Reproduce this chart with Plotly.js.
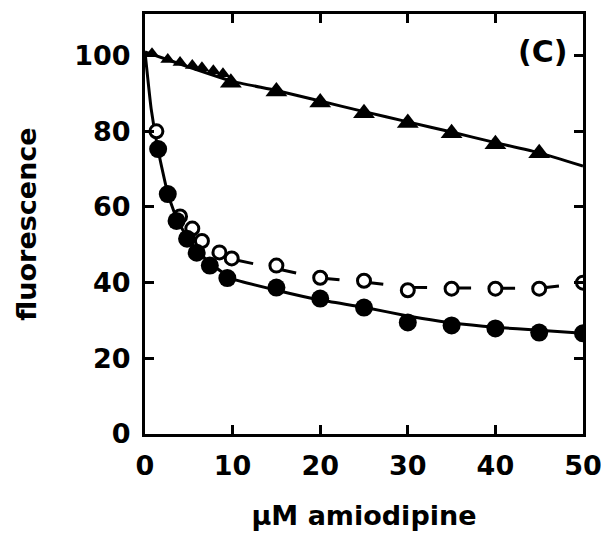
<!DOCTYPE html>
<html>
<head>
<meta charset="utf-8">
<script src="https://cdn.plot.ly/plotly-3.0.1.min.js"></script>
<style>html,body{margin:0;padding:0;background:#fff;}#chart{width:601px;height:538px;}</style>
</head>
<body>
<div id="chart"></div>
<script>
// Triangles (filled) – measured points
const triX = [0.8, 2.6, 4.0, 5.4, 6.5, 7.8, 8.9, 9.8, 15, 20, 25, 30, 35, 40, 45];
const triY = [100.5, 99, 98.2, 97.4, 96.8, 96, 95.2, 92.8, 90.5, 87.6, 84.8, 82.2, 79.5, 76.6, 74.2];
// Triangles – fitted curve
const triFitX = [0, 5, 10, 15, 20, 25, 30, 35, 40, 45, 50];
const triFitY = [101, 97, 93.2, 90.8, 88, 85.2, 82.5, 79.8, 77, 74.3, 70.8];

// Filled circles – measured points
const fcX = [1.5, 2.6, 3.6, 4.8, 5.9, 7.4, 9.4, 15, 20, 25, 30, 35, 40, 45, 50];
const fcY = [75.3, 63.4, 56.3, 51.6, 47.9, 44.5, 41.2, 38.7, 35.8, 33.4, 29.5, 28.7, 27.9, 26.8, 26.6];
// Filled circles – fitted curve
const fcFitX = [0, 0.7, 1.5, 2.6, 3.6, 4.8, 6, 7.5, 10, 15, 20, 25, 30, 35, 40, 45, 50];
const fcFitY = [101, 86, 75, 63.5, 57, 52, 48.5, 45, 41, 38, 35.4, 33.5, 31.2, 29.4, 28.2, 27.4, 26.6];

// Open circles – measured points
const ocX = [1.3, 4.0, 5.4, 6.5, 8.5, 9.9, 15, 20, 25, 30, 35, 40, 45, 50];
const ocY = [80, 57.5, 54.3, 51, 48, 46.4, 44.5, 41.3, 40.5, 38, 38.4, 38.4, 38.4, 40];
// Open circles – dashed curve
const ocFitX = [10, 15, 20, 25, 30, 35, 40, 45, 50];
const ocFitY = [46.2, 43.8, 41.2, 40.2, 38.8, 38.6, 38.5, 38.5, 39.8];

const xTicks = [0, 10, 20, 30, 40, 50];
const yTicks = [0, 20, 40, 60, 80, 100];

const F = 'DejaVu Sans, sans-serif';
const traces = [
  {x: triFitX, y: triFitY, mode: 'lines', line: {color: '#000', width: 3, shape: 'spline', smoothing: 0.5}, hoverinfo: 'skip'},
  {x: fcFitX, y: fcFitY, mode: 'lines', line: {color: '#000', width: 3, shape: 'spline', smoothing: 0.4}, hoverinfo: 'skip'},
  {x: ocFitX, y: ocFitY, mode: 'lines', line: {color: '#000', width: 3, dash: '21px,23px'}, hoverinfo: 'skip'},
  {x: triX, y: triY, mode: 'markers', marker: {symbol: 'triangle-up', size: triX.map(v => v < 9.5 ? 13 : 19), color: '#000', opacity: 1, line: {width: 0}}},
  {x: ocX, y: ocY, mode: 'markers', marker: {symbol: 'circle', size: 13, color: '#fff', line: {color: '#000', width: 3}}},
  {x: fcX, y: fcY, mode: 'markers', marker: {symbol: 'circle', size: 18, color: '#000'}}
];

const axisCommon = {
  showline: true, linecolor: '#000', linewidth: 3, mirror: 'ticks',
  ticks: 'inside', ticklen: 9, tickwidth: 3, tickcolor: '#000',
  showgrid: false, zeroline: false, ticklabeloverflow: 'allow',
  tickfont: {family: F, size: 27, color: '#000', weight: 'bold'}
};

const layout = {
  width: 601, height: 538,
  margin: {l: 145, r: 18, t: 14, b: 104},
  paper_bgcolor: '#fff', plot_bgcolor: '#fff',
  showlegend: false,
  xaxis: Object.assign({}, axisCommon, {
    range: [0, 50], tickvals: xTicks, ticktext: xTicks.map(String),
    ticklabelstandoff: 6,
    title: {text: 'µM amiodipine', font: {family: F, size: 27, color: '#000', weight: 'bold'}, standoff: 26}
  }),
  yaxis: Object.assign({}, axisCommon, {
    range: [0, 111], tickvals: yTicks, ticktext: yTicks.map(String),
    ticklabelstandoff: 6,
    title: {text: 'fluorescence', font: {family: F, size: 27, color: '#000', weight: 'bold'}, standoff: 30}
  }),
  annotations: [{
    x: 45.4, y: 101, xref: 'x', yref: 'y', text: '(C)', showarrow: false,
    font: {family: F, size: 30, color: '#000', weight: 'bold'}
  }]
};

Plotly.newPlot('chart', traces, layout, {displayModeBar: false, staticPlot: true});
</script>
</body>
</html>
